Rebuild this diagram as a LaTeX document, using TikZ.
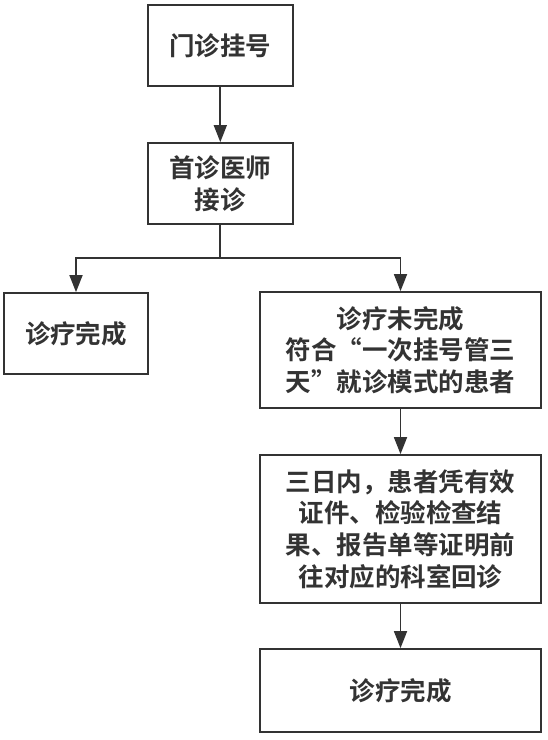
\documentclass[tikz,border=0pt]{standalone}
\usepackage{fontspec}
\newfontfamily\cjk{Noto Sans CJK SC}[BoldFont={Noto Sans CJK SC Bold}]
\usetikzlibrary{arrows.meta}
\definecolor{ink}{HTML}{333333}
\newcommand{\fq}[1]{{\addfontfeature{CharacterWidth=Full}#1}}
\begin{document}
\begin{tikzpicture}[x=1pt,y=-1pt,
  box/.style={draw=ink, line width=1.8pt, fill=white, rectangle, inner sep=0pt,
    align=center, text=ink, font=\cjk\bfseries\fontsize{25.5pt}{31.7pt}\selectfont},
  conn/.style={draw=ink, line width=1.8pt, -{Triangle[length=17pt,width=13pt]}},
  plain/.style={draw=ink, line width=1.8pt}]
\useasboundingbox (0,0) rectangle (547,740);
\node[box, minimum width=144.7pt, minimum height=81pt] (reg) at (220.3,45.5) {门诊挂号};
\node[box, minimum width=144.7pt, minimum height=81pt] (first) at (220.3,183.5) {首诊医师\\接诊};
\node[box, minimum width=144pt, minimum height=81pt] (doneL) at (76,333.5) {诊疗完成};
\node[box, minimum width=281pt, minimum height=116pt] (notdone) at (400.5,350) {诊疗未完成\\符合\fq{“}一次挂号管三\\天\fq{”}就诊模式的患者};
\node[box, minimum width=281pt, minimum height=148pt] (revisit) at (400.5,529) {三日内，患者凭有效\\证件、检验检查结\\果、报告单等证明前\\往对应的科室回诊};
\node[box, minimum width=281pt, minimum height=83pt] (doneR) at (400.5,690.5) {诊疗完成};
\coordinate (split) at (220.3,258);
\draw[conn] (reg) -- (first);
\draw[plain] (first.south) -- (split);
\draw[conn] (split) -| (doneL.north);
\draw[conn] (split) -| (notdone.north);
\draw[conn] (notdone) -- (revisit);
\draw[conn] (revisit) -- (doneR);
\end{tikzpicture}
\end{document}
